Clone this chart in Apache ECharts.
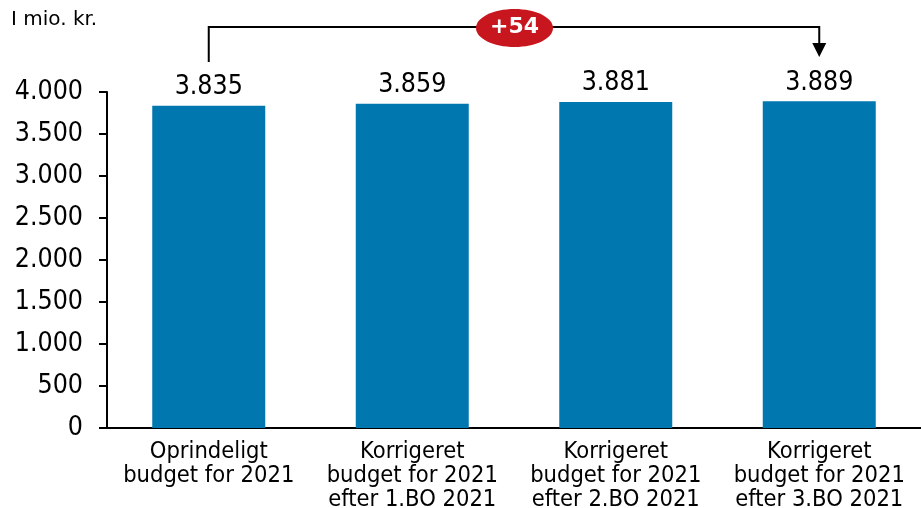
<!DOCTYPE html>
<html>
<head>
<meta charset="utf-8">
<script src="https://cdn.jsdelivr.net/npm/echarts@6/dist/echarts.min.js"></script>
<style>
  html, body { margin: 0; padding: 0; background: #fff; }
  #chart { width: 921px; height: 508px; }
</style>
</head>
<body>
<div id="chart"></div>
<script>
// data
const categories = [
  'Oprindeligt\nbudget for 2021',
  'Korrigeret\nbudget for 2021\nefter 1.BO 2021',
  'Korrigeret\nbudget for 2021\nefter 2.BO 2021',
  'Korrigeret\nbudget for 2021\nefter 3.BO 2021'
];
const values = [3835, 3859, 3881, 3889];
const unitLabel = 'I mio. kr.';
const changeLabel = '+54';

const FONT = '"DejaVu Sans Condensed", "DejaVu Sans", Verdana, sans-serif';
const FONT_WIDE = '"DejaVu Sans", Verdana, sans-serif';
const fmt = v => String(v).replace(/\B(?=(\d{3})+(?!\d))/g, '.');

const chart = echarts.init(document.getElementById('chart'));

chart.setOption({
  animation: false,
  grid: {
    left: 107, right: 0, top: 92, bottom: 80,
    containLabel: false, outerBoundsMode: 'none'
  },
  xAxis: {
    type: 'category',
    data: categories,
    axisLine: { show: true, lineStyle: { color: '#000', width: 2 } },
    axisTick: { show: false },
    axisLabel: {
      color: '#000', fontFamily: FONT, fontSize: 23.5, lineHeight: 24,
      margin: 12, interval: 0
    }
  },
  yAxis: {
    type: 'value',
    min: 0, max: 4000, interval: 500,
    splitLine: { show: false },
    axisLine: { show: true, lineStyle: { color: '#000', width: 2 } },
    axisTick: { show: true, length: 8, lineStyle: { color: '#000', width: 2 } },
    axisLabel: {
      color: '#000', fontFamily: FONT, fontSize: 26.5, margin: 24,
      formatter: v => fmt(v)
    }
  },
  series: [{
    type: 'bar',
    data: values,
    barWidth: 113,
    itemStyle: { color: '#0077ae' },
    label: {
      show: true, position: 'top', distance: 5,
      color: '#000', fontFamily: FONT, fontSize: 26.5,
      formatter: p => fmt(p.value)
    }
  }]
});

// bracket annotation built from the first and last bar positions
const first = chart.convertToPixel({ seriesIndex: 0 }, [0, values[0]]);
const last = chart.convertToPixel({ seriesIndex: 0 }, [values.length - 1, values[values.length - 1]]);
const topY = 27;
const midX = (first[0] + last[0]) / 2 + 0.5;

chart.setOption({
  graphic: [
    {
      type: 'text', left: 11, top: 10,
      style: { text: unitLabel, fontFamily: FONT_WIDE, fontSize: 20, fill: '#000' }
    },
    {
      type: 'polyline',
      shape: { points: [[first[0], 62], [first[0], topY], [last[0], topY], [last[0], 44]] },
      style: { stroke: '#000', lineWidth: 2, fill: null }
    },
    {
      type: 'polygon',
      shape: { points: [[last[0] - 7, 43], [last[0] + 7, 43], [last[0], 57]] },
      style: { fill: '#000' }
    },
    {
      type: 'ellipse',
      shape: { cx: midX, cy: topY + 1, rx: 38.5, ry: 19 },
      style: { fill: '#c8161e' }
    },
    {
      type: 'text', x: midX, y: topY,
      style: {
        text: changeLabel, fontFamily: FONT_WIDE, fontSize: 22, fontWeight: 'bold',
        fill: '#fff', align: 'center', verticalAlign: 'middle'
      }
    }
  ]
});
</script>
</body>
</html>
